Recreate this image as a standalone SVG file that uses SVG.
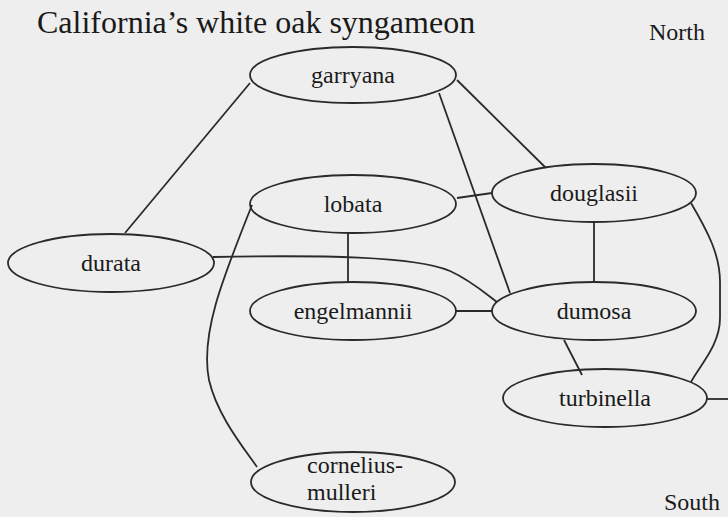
<svg xmlns="http://www.w3.org/2000/svg" width="728" height="517" viewBox="0 0 728 517">
<style>
.n ellipse{fill:none;stroke:#2a2a2a;stroke-width:1.8}
.n text,.t{font-family:"Liberation Serif","Times New Roman",serif;font-size:24px;fill:#1a1a1a;text-anchor:middle}
.e path{fill:none;stroke:#2a2a2a;stroke-width:1.8}
</style>
<rect width="728" height="517" fill="#eeeeee"/>
<text x="37" y="33" style="font-family:'Liberation Serif','Times New Roman',serif;font-size:32px;fill:#1a1a1a">California’s white oak syngameon</text>
<text class="t" x="677" y="40">North</text>
<text class="t" x="692" y="510">South</text>
<g class="e" id="edges">
<path d="M250,83 L125,233"/>
<path d="M457,80 L546,168"/>
<path d="M439,93 L510,293"/>
<path d="M457,198 L492,193"/>
<path d="M348,233 L348,282"/>
<path d="M252,205 C222,280 200,335 209,380 C217,415 243,447 257,467"/>
<path d="M213,257 C320,255 415,256 450,271 C470,280 485,293 497,302"/>
<path d="M456,311 L492,311"/>
<path d="M594,222 L594,282"/>
<path d="M691,203 C708,232 720,255 720,282 L720,318 C720,345 700,365 691,382"/>
<path d="M564,340 L582,375"/>
<path d="M707,399 L728,399"/>
</g>
<g class="n" id="garryana"><ellipse cx="353" cy="75" rx="103" ry="28"/><text x="353" y="83">garryana</text></g>
<g class="n" id="lobata"><ellipse cx="353" cy="204" rx="103" ry="29"/><text x="353" y="212">lobata</text></g>
<g class="n" id="douglasii"><ellipse cx="594" cy="193" rx="102" ry="29"/><text x="594" y="201">douglasii</text></g>
<g class="n" id="durata"><ellipse cx="111" cy="263" rx="103" ry="29"/><text x="111" y="271">durata</text></g>
<g class="n" id="engelmannii"><ellipse cx="353" cy="311" rx="103" ry="29"/><text x="353" y="319">engelmannii</text></g>
<g class="n" id="dumosa"><ellipse cx="594" cy="311" rx="102" ry="29"/><text x="594" y="319">dumosa</text></g>
<g class="n" id="turbinella"><ellipse cx="605" cy="398" rx="102" ry="29"/><text x="605" y="406">turbinella</text></g>
<g class="n" id="cornelius-mulleri"><ellipse cx="353" cy="482" rx="102" ry="30"/><text x="307" y="473" style="text-anchor:start">cornelius-</text><text x="307" y="500" style="text-anchor:start">mulleri</text></g>
</svg>
